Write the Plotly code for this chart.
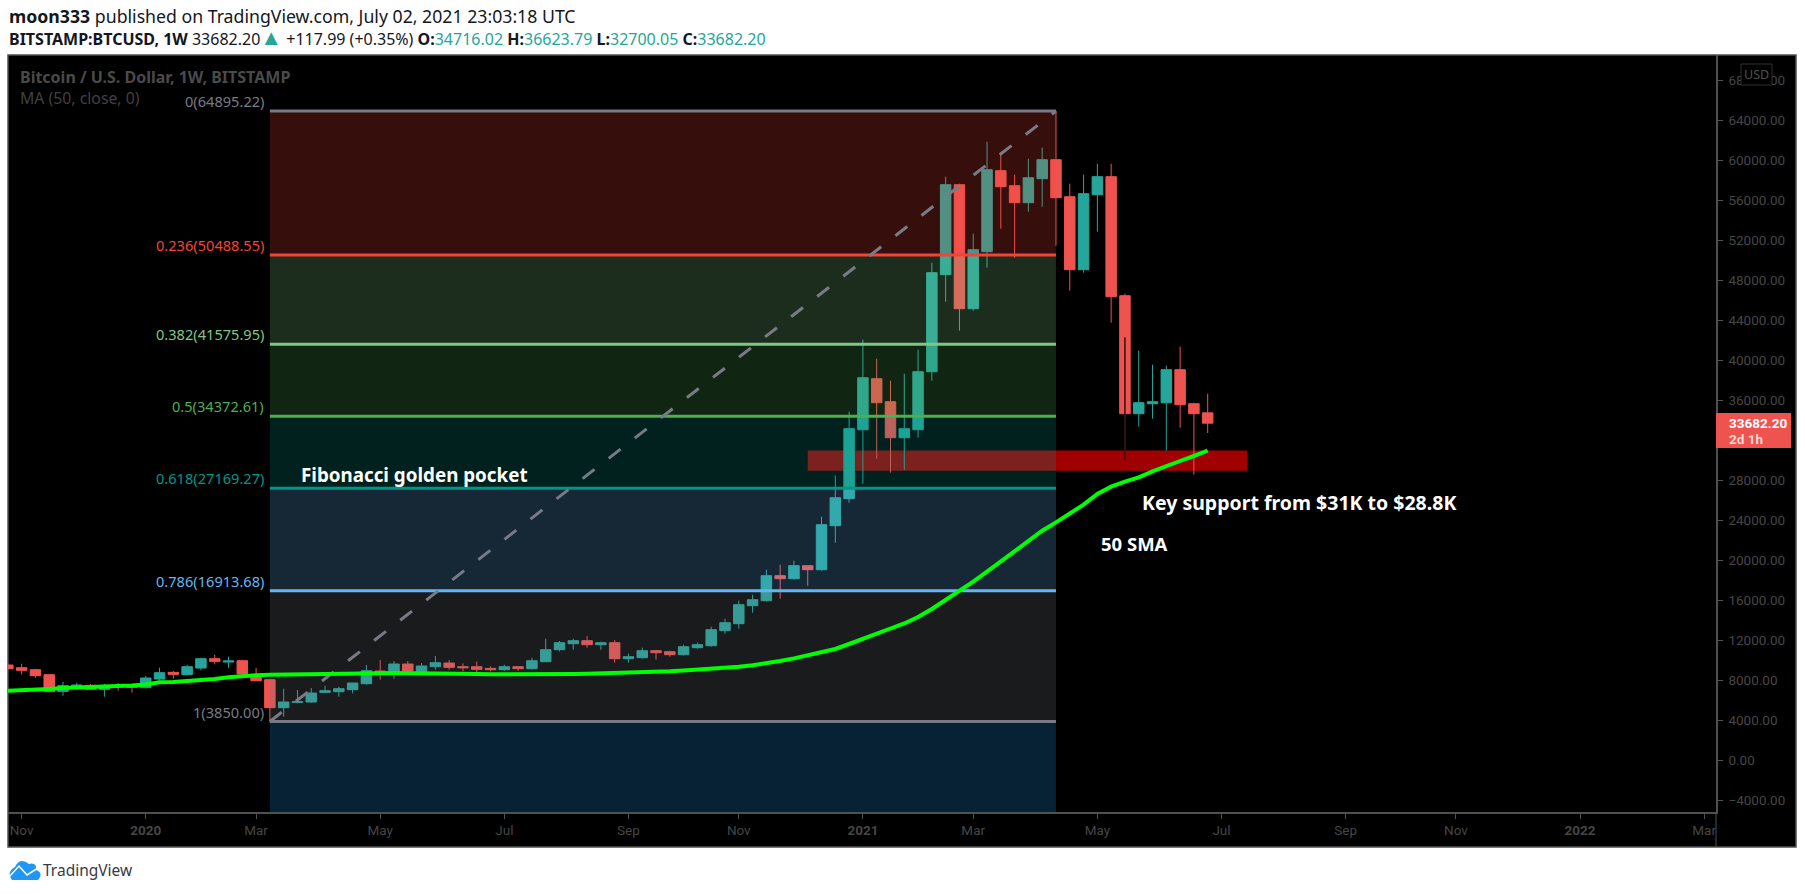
import pandas as pd
import plotly.graph_objs as go

W, H = 1805, 894
# plot box in page pixels
LEFT, RIGHT, TOP, BOTTOM = 8, 1716, 55, 812

# weekly candles, first one is the week of 2019-10-28
dates = pd.date_range("2019-10-28", periods=88, freq="7D")
opens = [9497, 9230, 9030, 8530, 6864, 7200, 7464, 7064, 7464, 7430, 7230, 8097, 8763, 8530, 9197, 10130, 9797, 9930,
         8530, 8030, 5230, 5764, 5797, 6764, 6830, 7030, 7630, 8897, 8730, 9597, 8830, 9330, 9697, 9330, 9330, 9164,
         9030, 9330, 9130, 9830, 11030, 11630, 11930, 11530, 11730, 10130, 10230, 10930, 10830, 10530, 11230, 11430,
         12930, 13630, 15430, 15930, 18430, 18130, 19430, 19030, 23430, 26130, 33030, 38130, 35830, 32230, 33030,
         38830, 48530, 57530, 45130, 50830, 58930, 57430, 55730, 58130, 60030, 56330, 49030, 56530, 58330, 46430,
         34630, 35630, 35730, 39030, 35630, 34716.02]
highs = [9600, 9630, 9130, 8530, 7830, 7730, 7600, 7600, 7700, 7600, 8397, 9230, 8897, 9530, 10230, 10530, 10330, 10030,
         9197, 8164, 7130, 7000, 7197, 7430, 7330, 7697, 9497, 10000, 9897, 9897, 9697, 10397, 9997, 9664, 9830, 9364,
         9530, 9330, 10230, 12130, 11900, 12130, 12397, 11830, 12000, 10630, 11230, 11030, 10930, 11530, 11730, 13330,
         14130, 15930, 16530, 19030, 19530, 19930, 19430, 24330, 28430, 34830, 42030, 40130, 37930, 38630, 41030,
         49730, 58330, 57630, 52630, 61830, 60530, 58530, 60130, 61230, 64895.22, 57630, 58530, 59630, 59630, 46630,
         40930, 39530, 39430, 41330, 35730, 36623.79]
lows = [9050, 8563, 8230, 6764, 6430, 7000, 7000, 6330, 6930, 6730, 7164, 7930, 8130, 8463, 8963, 9564, 9230, 8530,
        7930, 3850, 4330, 5664, 5730, 6730, 6330, 6664, 7530, 8030, 8130, 8797, 8530, 9030, 9030, 8864, 8797, 8864,
        8930, 8930, 9030, 9830, 10864, 11030, 11230, 11030, 9730, 9730, 10130, 10030, 10330, 10430, 11130, 11330,
        12630, 13130, 14730, 15830, 16130, 18030, 17430, 18930, 21730, 25730, 27630, 30130, 28730, 29030, 32230,
        37930, 45830, 42930, 44930, 49230, 53130, 50230, 54830, 55330, 51430, 46930, 48730, 52830, 43730, 30000,
        33330, 34130, 30930, 33230, 28530, 32700.05]
closes = [9130, 8963, 8430, 6830, 7430, 7500, 7064, 7430, 7364, 7264, 8197, 8730, 8563, 9330, 10130, 9864, 9897, 8597,
          7930, 5230, 5797, 5830, 6697, 6930, 7130, 7697, 8930, 8697, 9597, 8897, 9397, 9730, 9264, 9230, 9064, 9030,
          9330, 9130, 9930, 11030, 11730, 11930, 11530, 11730, 10130, 10330, 10930, 10730, 10530, 11330, 11530, 13030,
          13730, 15530, 16030, 18430, 18130, 19430, 19030, 23530, 26230, 33130, 38230, 35730, 32230, 33130, 38830,
          48730, 57530, 45130, 51030, 59030, 57330, 55730, 58230, 60030, 56230, 49030, 56630, 58330, 46330, 34630,
          35730, 35830, 39030, 35530, 34630, 33682.20]
ma50 = [6930, 6964, 7010, 7097, 7197, 7230, 7270, 7320, 7370, 7450, 7560, 7764, 7800, 7880, 8030, 8100, 8264, 8420,
        8480, 8530, 8560, 8580, 8600, 8620, 8640, 8660, 8670, 8680, 8690, 8690, 8680, 8660, 8640, 8610, 8590, 8575,
        8565, 8550, 8530, 8530, 8560, 8590, 8620, 8650, 8670, 8720, 8780, 8810, 8870, 8960, 9040, 9090, 9165, 9330,
        9470, 9660, 9900, 10165, 10464, 10765, 11100, 11600, 12150, 12650, 13150, 13650, 14300, 15100, 16000, 16930,
        17830, 18830, 19830, 20830, 21930, 22930, 23765, 24600, 25530, 26600, 27330, 27830, 28265, 28865, 29430,
        29900, 30400, 30930]

# fibonacci retracement drawing
fib_start = "2020-03-09"
fib_end = "2021-04-12"
fib_levels = ["0", "0.236", "0.382", "0.5", "0.618", "0.786", "1"]
fib_prices = [64895.22, 50488.55, 41575.95, 34372.61, 27169.27, 16913.68, 3850.00]
fib_bottom = -33876.0
fib_colors = ["#787B86", "#F44336", "#81C784", "#4CAF50", "#009688", "#64B5F6", "#787B86"]
fib_fills = ["rgba(244,67,54,0.22)", "rgba(129,199,132,0.22)", "rgba(76,175,80,0.22)", "rgba(0,150,136,0.22)",
             "rgba(100,181,246,0.22)", "rgba(120,123,134,0.22)", "rgba(33,150,243,0.22)"]

# support zone
zone_start = "2020-12-07"
zone_end = "2021-07-18"
zone_high = 30950
zone_low = 28930

# black wick of the 2021-05-17 candle, it shows on the body and on the zone
wick_date = "2021-05-17"
wick_prices = [30000, 42270]

x_tickvals = ["2019-11-04", "2020-01-06", "2020-03-02", "2020-05-04", "2020-07-06", "2020-09-07", "2020-11-02",
              "2021-01-04", "2021-03-01", "2021-05-03", "2021-07-05", "2021-09-06", "2021-11-01", "2022-01-03",
              "2022-03-07"]
x_ticktext = ["Nov", "<b>2020</b>", "Mar", "May", "Jul", "Sep", "Nov", "<b>2021</b>", "Mar", "May", "Jul", "Sep", "Nov",
              "<b>2022</b>", "Mar"]
y_tickvals = list(range(-4000, 68001, 4000))

GREEN = "#26A69A"
RED = "#EF5350"
DIM = "#464646"
FRAME = "#505050"
FONT = "Noto Sans"
AXIS_FONT = "Roboto"


def px(x):
    return (x - LEFT) / (RIGHT - LEFT)


def py(y):
    return (BOTTOM - y) / (BOTTOM - TOP)


def label(x, y, text, size, color, anchor="left", family=FONT):
    return dict(xref="paper", yref="paper", x=px(x), y=py(y), text=text, showarrow=False, xanchor=anchor,
                yanchor="middle", align=anchor, borderpad=0, font=dict(family=family, size=size, color=color))


def page_path(template, points):
    # fill an svg path template with page pixel points
    values = []
    for x, y in points:
        values += [px(x), py(y)]
    return template.format(*values)


fig = go.Figure()
fig.add_trace(go.Candlestick(x=dates, open=opens, high=highs, low=lows, close=closes,
                             increasing=dict(line=dict(color=GREEN, width=1), fillcolor=GREEN),
                             decreasing=dict(line=dict(color=RED, width=1), fillcolor=RED),
                             hoverinfo="skip"))

# fib zones go above the candles so they tint them, like the original
lower_prices = fib_prices[1:] + [fib_bottom]
for top_price, low_price, fill in zip(fib_prices, lower_prices, fib_fills):
    fig.add_trace(go.Scatter(x=[fib_start, fib_end, fib_end, fib_start], y=[top_price, top_price, low_price, low_price],
                             mode="none", fill="toself", fillcolor=fill, hoverinfo="skip"))
for price, color in zip(fib_prices, fib_colors):
    fig.add_trace(go.Scatter(x=[fib_start, fib_end], y=[price, price], mode="lines",
                             line=dict(color=color, width=3), hoverinfo="skip"))
fig.add_trace(go.Scatter(x=[fib_start, fib_end], y=[fib_prices[-1], fib_prices[0]], mode="lines",
                         line=dict(color="#787B86", width=3, dash="15px,18px"), hoverinfo="skip"))
fig.add_trace(go.Scatter(x=[wick_date, wick_date], y=wick_prices, mode="lines",
                         line=dict(color="#000000", width=1.2), hoverinfo="skip"))
fig.add_trace(go.Scatter(x=dates, y=ma50, mode="lines", line=dict(color="#00FF00", width=4), hoverinfo="skip"))

cloud = [(12, 880), (6, 872), (15, 867), (20, 857), (29, 864), (37, 862), (36, 870), (44, 873), (38, 880), (12, 880)]
zigzag = [(9, 877), (19, 866), (27, 875), (38, 868)]

shapes = [
    # black chart frame, goes past the plot box
    dict(type="rect", xref="paper", yref="paper", x0=px(8), x1=px(1796), y0=py(55), y1=py(847), layer="below",
         fillcolor="#000000", line=dict(color=FRAME, width=1.5)),
    dict(type="rect", xref="x", yref="y", x0=zone_start, x1=zone_end, y0=zone_low, y1=zone_high, layer="below",
         fillcolor="#A00000", line=dict(width=0)),
    dict(type="line", xref="paper", yref="paper", x0=px(1716), x1=px(1716), y0=py(812), y1=py(847), layer="above",
         line=dict(color=FRAME, width=1)),
    # last price tag
    dict(type="rect", xref="paper", yref="paper", x0=px(1716), x1=px(1791), y0=py(413), y1=py(448), layer="above",
         fillcolor=RED, line=dict(width=0)),
    # USD button over the top tick label
    dict(type="rect", xref="paper", yref="paper", x0=px(1741), x1=px(1772), y0=py(64), y1=py(85), layer="above",
         fillcolor="#000000", line=dict(color="#303030", width=1)),
    # TradingView logo
    dict(type="path", xref="paper", yref="paper", layer="above", fillcolor="#2196F3", line=dict(width=0),
         path=page_path("M {} {} Q {} {} {} {} Q {} {} {} {} Q {} {} {} {} Q {} {} {} {} Z", cloud)),
    dict(type="path", xref="paper", yref="paper", layer="above", line=dict(color="#FFFFFF", width=1.5),
         path=page_path("M {} {} L {} {} L {} {} L {} {}", zigzag)),
]

span = '<span style="color:{}">{}</span>'
triangle = '<span style="color:{};font-size:22px">▲</span>'.format(GREEN)
ohlc_line = ('<b>BITSTAMP:BTCUSD, 1W</b> 33682.20' + triangle + ' +117.99 (+0.35%) <b>O:</b>'
             + span.format(GREEN, "34716.02") + ' <b>H:</b>' + span.format(GREEN, "36623.79") + ' <b>L:</b>'
             + span.format(GREEN, "32700.05") + ' <b>C:</b>' + span.format(GREEN, "33682.20"))

annotations = [
    label(8, 16, "<b>moon333</b> published on TradingView.com, July 02, 2021 23:03:18 UTC", 17.7, "#131722"),
    label(8, 36, ohlc_line, 16, "#131722"),
    label(19, 77, "<b>Bitcoin / U.S. Dollar, 1W, BITSTAMP</b>", 16, "#4A4A4A"),
    label(19, 98, "MA (50, close, 0)", 15.8, "#404040"),
    label(300, 475, "<b>Fibonacci golden pocket</b>", 18.8, "#FFFFFF"),
    label(1141, 502, "<b>Key support from $31K to $28.8K</b>", 19.5, "#FFFFFF"),
    label(1100, 543, "<b>50 SMA</b>", 18.5, "#FFFFFF"),
    label(1756.5, 74, "USD", 12.5, "#505050", anchor="center"),
    label(1728, 423, "<b>33682.20</b>", 13.5, "#FFFFFF", family=AXIS_FONT),
    label(1728, 439, "<b>2d 1h</b>", 13.5, "#FFD6D4", family=AXIS_FONT),
    label(42, 870, "TradingView", 15.5, "#363A45"),
]
for level, price, color in zip(fib_levels, fib_prices, fib_colors):
    annotations.append(dict(xref="paper", yref="y", x=px(265), y=price, yshift=-1, text="{}({:.2f})".format(level, price),
                            showarrow=False, xanchor="right", yanchor="bottom", borderpad=0,
                            font=dict(family=FONT, size=14.6, color=color)))

fig.update_layout(
    width=W, height=H, showlegend=False, paper_bgcolor="#FFFFFF", plot_bgcolor="#000000",
    boxgap=0.24, boxgroupgap=0,
    margin=dict(l=LEFT, r=W - RIGHT, t=TOP, b=H - BOTTOM, autoexpand=False),
    shapes=shapes, annotations=annotations,
    xaxis=dict(type="date", range=["2019-10-28 02:00", "2022-03-13"], rangeslider=dict(visible=False), showgrid=False,
               zeroline=False, tickmode="array", tickvals=x_tickvals, ticktext=x_ticktext, ticks="outside", ticklen=5,
               tickcolor=FRAME, showline=True, linecolor=FRAME, linewidth=1.5,
               tickfont=dict(family=AXIS_FONT, size=13.5, color=DIM)),
    yaxis=dict(side="right", range=[-5200, 70500], showgrid=False, zeroline=False, tickmode="array",
               tickvals=y_tickvals, tickformat=".2f", ticks="outside", ticklen=5, tickcolor=FRAME, showline=True,
               linecolor=FRAME, linewidth=1.5, ticklabelstandoff=3,
               tickfont=dict(family=AXIS_FONT, size=13.5, color=DIM)),
)

fig.write_html("out.html", config={"displayModeBar": False},
               post_script="document.body.style.margin='0';document.body.style.overflow='hidden';")
